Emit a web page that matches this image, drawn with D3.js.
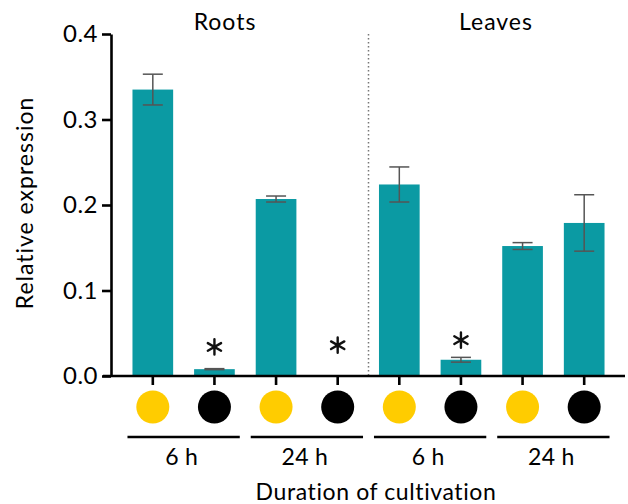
<!DOCTYPE html>
<html>
<head>
<meta charset="utf-8">
<script src="https://cdn.jsdelivr.net/npm/d3@7"></script>
<style>
  html, body { margin: 0; padding: 0; background: #fff; }
  svg { display: block; font-family: Lato, "Open Sans", sans-serif; }
</style>
</head>
<body>
<svg id="chart" width="628" height="504"></svg>
<script>
// ─── data ────────────────────────────────────────────
const tissues    = ['Roots', 'Leaves'];
const durations  = ['6 h', '24 h'];
const lights     = ['light', 'dark'];          // yellow / black dots
const categories = ['R6L', 'R6D', 'R24L', 'R24D', 'L6L', 'L6D', 'L24L', 'L24D'];
const means      = [0.335, 0.008, 0.207, 0.000, 0.224, 0.019, 0.152, 0.179];
const errors     = [0.018, 0.0006, 0.0035, 0.000, 0.0205, 0.0028, 0.004, 0.033];
const starAt     = [null, 0.034, null, 0.036, null, 0.042, null, null];
const yTicks     = [0, 0.1, 0.2, 0.3, 0.4];

const TEAL = '#0b9aa3';
const DOT = { light: '#ffcc00', dark: '#000000' };

const svg = d3.select('#chart');

// ─── scales ──────────────────────────────────────────
const x = d3.scaleBand()
  .domain(categories)
  .range([122, 615])
  .paddingInner(0.34)
  .paddingOuter(0.17);

const y = d3.scaleLinear()
  .domain([0, 0.4])
  .range([376, 34]);

const bw = x.bandwidth();
const cx = c => x(c) + bw / 2;

// ─── separator between tissues ───────────────────────
const sepX = (x(categories[3]) + bw + x(categories[4])) / 2;
svg.append('line')
  .attr('x1', sepX).attr('x2', sepX)
  .attr('y1', y(0.4)).attr('y2', y(0))
  .attr('stroke', '#777').attr('stroke-width', 1.5)
  .attr('stroke-dasharray', '1.5,2.5');

// ─── bars ────────────────────────────────────────────
svg.selectAll('.bar')
  .data(categories)
  .enter().append('rect')
  .attr('class', 'bar')
  .attr('x', d => x(d))
  .attr('width', bw)
  .attr('y', (d, i) => y(means[i]))
  .attr('height', (d, i) => y(0) - y(means[i]))
  .attr('fill', TEAL);

// error bars
const eb = svg.append('g')
  .attr('stroke', '#555').attr('stroke-width', 1.5).attr('fill', 'none');
categories.forEach((c, i) => {
  if (!means[i]) return;
  const top = y(means[i] + errors[i]), bot = y(means[i] - errors[i]);
  eb.append('line').attr('x1', cx(c)).attr('x2', cx(c)).attr('y1', top).attr('y2', bot);
  eb.append('line').attr('x1', cx(c) - 10).attr('x2', cx(c) + 10).attr('y1', top).attr('y2', top);
  eb.append('line').attr('x1', cx(c) - 10).attr('x2', cx(c) + 10).attr('y1', bot).attr('y2', bot);
});

// significance stars
const star = d3.symbol().type(d3.symbolAsterisk).size(165);
svg.selectAll('.star')
  .data(categories.filter((c, i) => starAt[i] != null))
  .enter().append('path')
  .attr('class', 'star')
  .attr('d', star)
  .attr('transform', d => `translate(${cx(d)},${y(starAt[categories.indexOf(d)])})`)
  .attr('stroke', '#111').attr('stroke-width', 2.4).attr('stroke-linecap', 'round')
  .attr('fill', 'none');

// ─── axes ────────────────────────────────────────────
const yAxis = svg.append('g')
  .attr('transform', 'translate(111,0)')
  .call(d3.axisLeft(y).tickValues(yTicks).tickFormat(d3.format('.1f'))
    .tickSize(9).tickSizeOuter(0).tickPadding(4));
yAxis.select('.domain').attr('stroke', '#000').attr('stroke-width', 2.6);
yAxis.selectAll('.tick line').attr('stroke', '#000').attr('stroke-width', 2.6);
yAxis.selectAll('.tick text')
  .attr('fill', '#000').style('font-size', '24px').style('letter-spacing', '0.5px')
  .style('font-family', 'Lato, sans-serif');

const xAxis = svg.append('g')
  .attr('transform', `translate(0,${y(0)})`)
  .call(d3.axisBottom(x).tickFormat('').tickSize(9).tickSizeOuter(0));
xAxis.select('.domain').remove();
xAxis.selectAll('.tick line').attr('stroke', '#000').attr('stroke-width', 2.6);
svg.append('line')
  .attr('x1', 103).attr('x2', 625)
  .attr('y1', y(0)).attr('y2', y(0))
  .attr('stroke', '#000').attr('stroke-width', 2.6);

// condition dots
svg.selectAll('.dot')
  .data(categories)
  .enter().append('circle')
  .attr('class', 'dot')
  .attr('cx', d => cx(d))
  .attr('cy', 407)
  .attr('r', 16.5)
  .attr('fill', (d, i) => DOT[lights[i % 2]]);

// duration groups
const groups = [];
tissues.forEach((t, ti) => durations.forEach((du, di) => {
  const a = categories[ti * 4 + di * 2], b = categories[ti * 4 + di * 2 + 1];
  groups.push({ label: du, x0: x(a) - 5, x1: x(b) + bw + 5 });
}));
const gg = svg.selectAll('.grp').data(groups).enter().append('g').attr('class', 'grp');
gg.append('line')
  .attr('x1', d => d.x0).attr('x2', d => d.x1)
  .attr('y1', 437).attr('y2', 437)
  .attr('stroke', '#000').attr('stroke-width', 2.4);
gg.append('text')
  .attr('x', d => (d.x0 + d.x1) / 2 - 2)
  .attr('y', 465)
  .attr('text-anchor', 'middle')
  .style('font-size', '23px').style('letter-spacing', '0.3px')
  .text(d => d.label);

// ─── titles ──────────────────────────────────────────
svg.append('text')
  .attr('x', 225).attr('y', 30).attr('text-anchor', 'middle')
  .style('font-size', '23px').style('letter-spacing', '1px').text(tissues[0]);
svg.append('text')
  .attr('x', 496).attr('y', 30).attr('text-anchor', 'middle')
  .style('font-size', '23px').style('letter-spacing', '1px').text(tissues[1]);

svg.append('text')
  .attr('x', 376).attr('y', 500)
  .attr('text-anchor', 'middle')
  .style('font-size', '23px').style('letter-spacing', '0.6px')
  .text('Duration of cultivation');

svg.append('text')
  .attr('transform', 'translate(33,203) rotate(-90)')
  .attr('text-anchor', 'middle')
  .style('font-size', '23px').style('letter-spacing', '1px')
  .text('Relative expression');
</script>
</body>
</html>
